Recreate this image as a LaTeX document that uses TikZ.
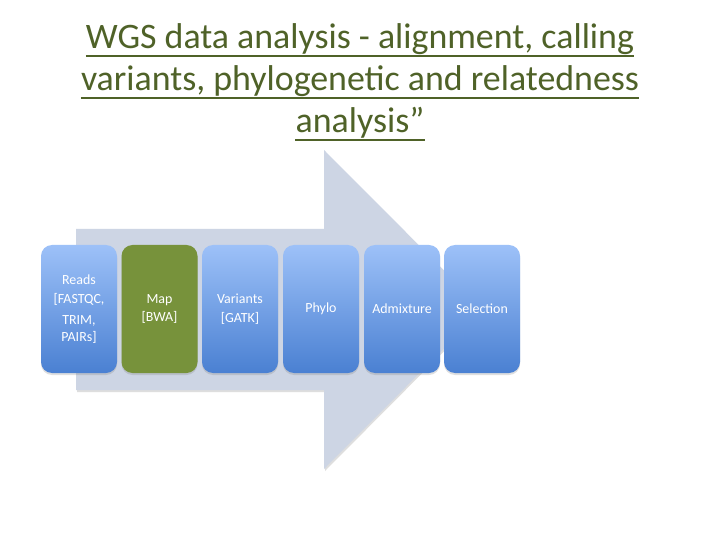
\documentclass[tikz,border=0pt]{standalone}
\usepackage{fontspec}
\setmainfont{Carlito}
\usetikzlibrary{shadows}
\definecolor{titlecol}{HTML}{4F6228}
\definecolor{arrowcol}{HTML}{CDD5E4}
\definecolor{bluetop}{HTML}{9DC1F8}
\definecolor{bluebot}{HTML}{4A80D2}
\definecolor{greenbox}{HTML}{77923B}
\tikzset{
  titleline/.style={font=\fontsize{36}{42}\selectfont, text=titlecol, inner sep=0pt, anchor=base},
  ul/.style={draw=titlecol, line width=1.8bp},
  stepbox/.style={rounded corners=11bp, minimum width=76bp, minimum height=128bp, inner sep=0pt,
    text=white, align=center, font=\fontsize{14}{17}\selectfont,
    drop shadow={opacity=0.25, shadow xshift=0bp, shadow yshift=-2bp}},
  bluebox/.style={stepbox, top color=bluetop, bottom color=bluebot, draw=none},
  greenbx/.style={stepbox, fill=greenbox, draw=none},
}
\begin{document}
\begin{tikzpicture}[x=1bp,y=-1bp]
\useasboundingbox[fill=white] (0,0) rectangle (720,540);
% title
\node[titleline] (t1) at (360,49) {WGS data analysis - alignment, calling};
\node[titleline] (t2) at (360,91) {variants, phylogenetic and relatedness};
\node[titleline] (t3) at (360,133) {analysis”};
\draw[ul] ([yshift=-7bp]t1.base west) -- ([yshift=-7bp]t1.base east);
\draw[ul] ([yshift=-7bp]t2.base west) -- ([yshift=-7bp]t2.base east);
\draw[ul] ([yshift=-7bp]t3.base west) -- ([yshift=-7bp]t3.base east);
% big arrow
\fill[black!25, opacity=0.5] (77,231) -- (325,231) -- (325,152) -- (484,311) -- (325,471) -- (325,392) -- (77,392) -- cycle;
\fill[arrowcol] (76,229) -- (324,229) -- (324,150) -- (483,309.5) -- (324,469) -- (324,390) -- (76,390) -- cycle;
% boxes
\node[bluebox] (b1) at (79,309) {Reads\\[2pt][FASTQC,\\[4pt]TRIM,\\PAIRs]};
\node[greenbx] (b2) at (159.5,309) {Map\\[2pt][BWA]};
\node[bluebox] (b3) at (240,309) {Variants\\[2pt][GATK]};
\node[bluebox] (b4) at (321,309) {Phylo};
\node[bluebox] (b5) at (402,309) {Admixture};
\node[bluebox] (b6) at (482,309) {Selection};
\end{tikzpicture}
\end{document}
